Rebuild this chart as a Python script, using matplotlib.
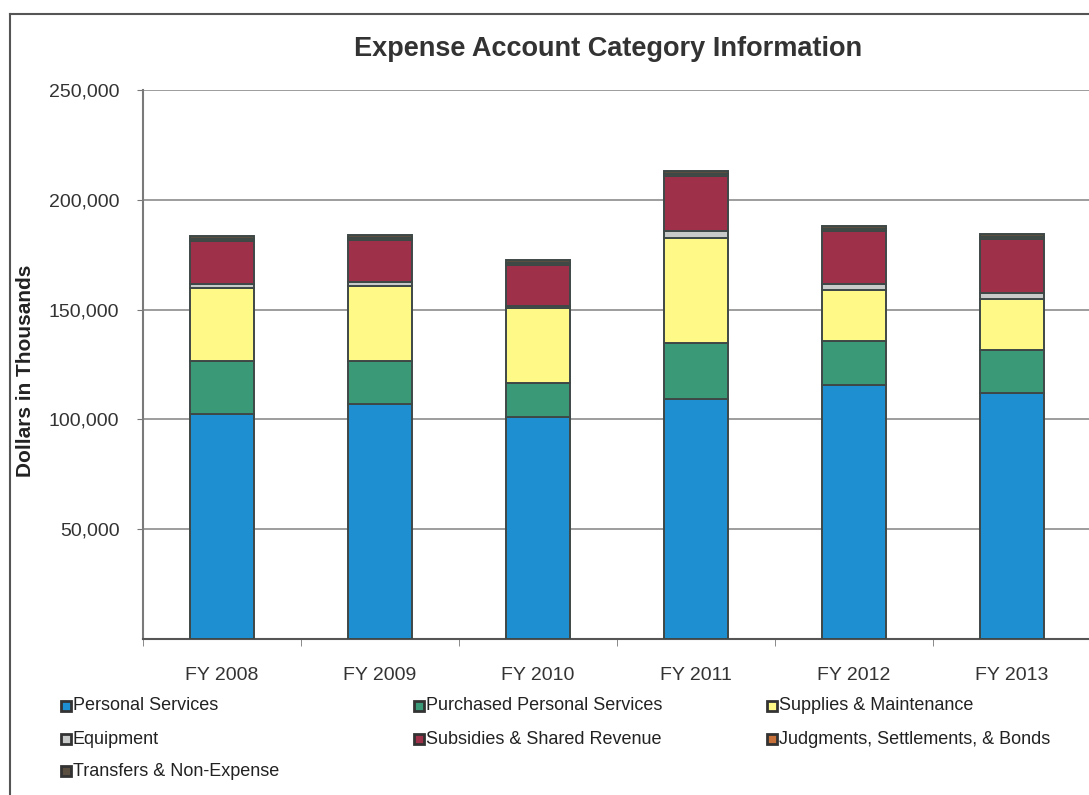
import matplotlib
matplotlib.use("Agg")
import matplotlib.pyplot as plt
from matplotlib.patches import Rectangle
from matplotlib.lines import Line2D
from matplotlib.ticker import FuncFormatter
import numpy as np

plt.rcParams['font.family'] = ['Liberation Sans', 'DejaVu Sans']

categories = ["FY 2008", "FY 2009", "FY 2010", "FY 2011", "FY 2012", "FY 2013"]
personal_services = [102300, 106800, 100900, 109500, 115500, 111800]
purchased_personal = [24300, 19700, 15900, 25500, 20000, 19600]
supplies_maint = [33400, 34100, 33800, 47800, 23200, 23600]
equipment = [1600, 1800, 1000, 3000, 2900, 2600]
subsidies = [19800, 19200, 18500, 25100, 24000, 24700]
judgments = [700, 900, 900, 800, 900, 800]
transfers = [1500, 1500, 1700, 1500, 1700, 1400]

series_names = ["Personal Services", "Purchased Personal Services", "Supplies & Maintenance",
                "Equipment", "Subsidies & Shared Revenue", "Judgments, Settlements, & Bonds",
                "Transfers & Non-Expense"]
series_values = [personal_services, purchased_personal, supplies_maint, equipment,
                 subsidies, judgments, transfers]
colors = ["#1E90D2", "#3A9A78", "#FFFA88", "#C8CACA", "#9E3049", "#C8703A", "#5A4E40"]
edge = "#3E4846"

fig = plt.figure(figsize=(10.89, 7.95), dpi=100)
ax = fig.add_axes([143/1089, 1-639/795, 948/1089, 549/795])

x = np.arange(len(categories))
bottom = np.zeros(len(categories))
for name, vals, c in zip(series_names, series_values, colors):
    ax.bar(x, vals, bottom=bottom, width=0.405, color=c, edgecolor=edge, linewidth=1.4,
           label=name, zorder=3)
    bottom += np.array(vals)

ax.set_xlim(-0.5, len(categories) - 0.5)
ax.set_ylim(0, 250000)
ax.set_yticks([50000, 100000, 150000, 200000, 250000])
ax.yaxis.set_major_formatter(FuncFormatter(lambda v, p: f"{int(v):,}"))
ax.grid(axis='y', color='#8C8C8C', linewidth=1.2, zorder=0)
ax.set_xticks(x)
ax.set_xticklabels(categories)
ax.set_xticks(np.arange(-0.5, len(categories), 1), minor=True)
ax.tick_params(axis='x', which='major', length=0, pad=20, labelsize=14, labelcolor='#333333')
ax.tick_params(axis='x', which='minor', length=5, color='#777777', direction='out')
ax.tick_params(axis='y', length=4, color='#777777', labelsize=14, labelcolor='#333333', pad=13)
for s in ['top', 'right']:
    ax.spines[s].set_visible(False)
ax.spines['left'].set_color('#7A7A7A')
ax.spines['left'].set_linewidth(1.5)
ax.spines['bottom'].set_color('#555555')
ax.spines['bottom'].set_linewidth(1.5)

ax.set_ylabel("Dollars in Thousands", fontsize=15, fontweight='bold', color='#222222')
ax.yaxis.label.set_va('center')
ax.yaxis.set_label_coords(-(143-26)/948, 1-(371-90)/549)

fig.text(608/1089, 1-49/795, "Expense Account Category Information", ha='center', va='center',
         fontsize=19.5, fontweight='bold', color='#333333')

# outer frame
fig.add_artist(Line2D([10/1089, 10/1089], [0, 1-14/795], color='#555555', linewidth=1.5,
                      transform=fig.transFigure))
fig.add_artist(Line2D([10/1089, 1], [1-14/795, 1-14/795], color='#555555', linewidth=1.5,
                      transform=fig.transFigure))

# legend (row-wise, 3 columns)
col_x = [62, 415, 768]
row_y = [706, 739, 771]
for i, (name, c) in enumerate(zip(series_names, colors)):
    r, cc = divmod(i, 3)
    px, py = col_x[cc], row_y[r]
    fig.add_artist(Rectangle(((px - 1)/1089, 1-(py + 5)/795), 10/1089, 10/795,
                             transform=fig.transFigure, facecolor=c, edgecolor='#333333',
                             linewidth=2))
    fig.text((px + 11)/1089, 1-py/795, name, ha='left', va='center', fontsize=13, color='#222222')

fig.savefig("out.png", dpi=100)
